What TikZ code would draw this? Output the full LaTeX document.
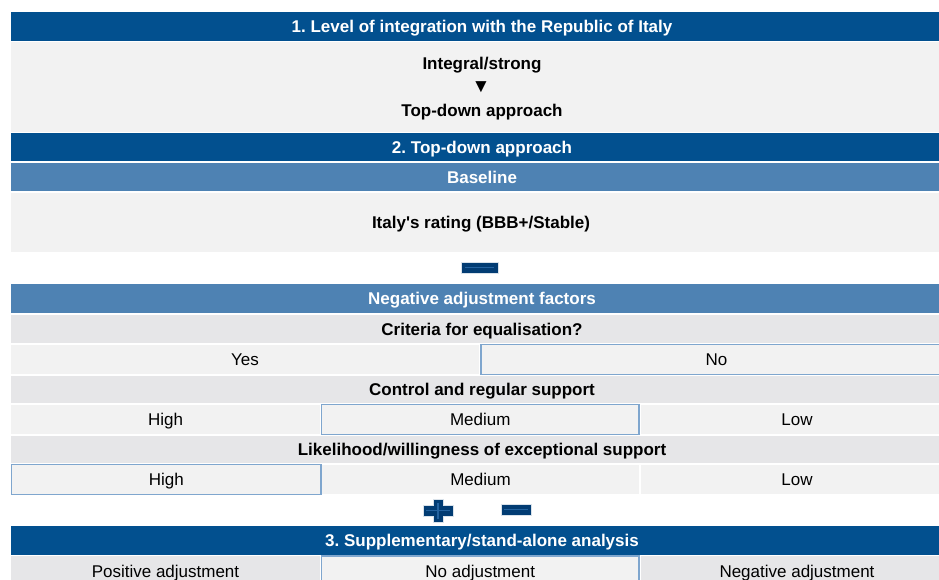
\documentclass[tikz,border=0pt]{standalone}
\usepackage{fontspec}
\setmainfont{Liberation Sans}
\frenchspacing
\definecolor{darkblue}{HTML}{02508F}
\definecolor{midblue}{HTML}{4E82B3}
\definecolor{edgeblue}{HTML}{7FA6CE}
\definecolor{lightcell}{HTML}{F2F2F2}
\definecolor{graycell}{HTML}{E6E6E8}
\definecolor{signblue}{HTML}{023C73}
\definecolor{signline}{HTML}{2463A0}
\newcommand{\cellbox}[7]{%
  \pgfmathsetmacro{\cellW}{#4-#2}\pgfmathsetmacro{\cellH}{#5-#3}%
  \pgfmathsetmacro{\cellX}{(#2+#4)/2}\pgfmathsetmacro{\cellY}{(#3+#5)/2}%
  \node[box,#6,minimum width=\cellW pt,minimum height=\cellH pt] (#1) at (\cellX,\cellY) {#7};}
\begin{document}
\begin{tikzpicture}[x=1pt,y=-1pt,
  box/.style={inner sep=0pt,outer sep=0pt,anchor=center,
    font=\fontsize{17}{20}\selectfont,text height=13pt,text depth=1pt},
  darkbar/.style={fill=darkblue,text=white,font=\fontsize{17}{20}\selectfont\bfseries},
  midbar/.style={fill=midblue,text=white,font=\fontsize{17}{20}\selectfont\bfseries},
  light/.style={fill=lightcell,text=black},
  gray/.style={fill=graycell,text=black},
  head/.style={fill=graycell,text=black,font=\fontsize{17}{20}\selectfont\bfseries},
  chosen/.style={draw=edgeblue,line width=1.6pt},
  plain/.style={inner sep=0pt,font=\fontsize{17}{20}\selectfont\bfseries,text height=13pt,text depth=1pt},
  sign/.style={fill=signblue,draw=white!85!signblue,line width=0.5pt},
  signbar/.style={draw=signline,line width=1.5pt}]
\useasboundingbox (0,0) rectangle (939,579);
% section 1
\cellbox{t1}{11}{12}{953}{41}{darkbar}{1. Level of integration with the Republic of Italy}
\cellbox{a1}{11}{42}{953}{132}{light}{}
\node[plain] (integral) at (482,63) {Integral/strong};
\node[plain,font=\fontsize{19}{20}\selectfont] (arrow) at (481,86.5) {▼};
\node[plain] (topdown) at (482,110) {Top-down approach};
% section 2
\cellbox{t2}{11}{133}{953}{161}{darkbar}{2. Top-down approach}
\cellbox{base}{11}{163}{953}{191}{midbar}{Baseline}
\cellbox{a2}{11}{193}{953}{252}{light}{}
\node[plain] (rating) at (481,222) {Italy\textquotesingle s rating (BBB+/Stable)};
% minus 1
\node[sign,inner sep=0pt,minimum width=37pt,minimum height=11pt] (minusA) at (479.5,267.5) {};
\draw[signbar] ([xshift=4pt]minusA.west) -- ([xshift=-4pt]minusA.east);
% negative adjustment factors
\cellbox{neg}{11}{284}{953}{313}{midbar}{Negative adjustment factors}
\cellbox{crit}{11}{315}{953}{343}{head}{Criteria for equalisation?}
\cellbox{yes}{11}{345}{479}{374}{light}{Yes}
\cellbox{no}{481}{344.5}{952}{374.5}{light,chosen}{No}
\cellbox{ctrl}{11}{376}{953}{403}{head}{Control and regular support}
\cellbox{ch}{11}{405}{320}{434}{light}{High}
\cellbox{cm}{321.5}{404.5}{639}{434.5}{light,chosen}{Medium}
\cellbox{cl}{641}{405}{953}{434}{light}{Low}
\cellbox{like}{11}{436}{953}{463}{head}{Likelihood/willingness of exceptional support}
\cellbox{lh}{11.5}{464.5}{321}{494.5}{light,chosen}{High}
\cellbox{lm}{322}{465}{639}{494}{light}{Medium}
\cellbox{ll}{641}{465}{953}{494}{light}{Low}
% plus and minus
\path[sign] (433,499) -- (443,499) -- (443,505) -- (453,505) -- (453,516) -- (443,516)
  -- (443,522) -- (433,522) -- (433,516) -- (423,516) -- (423,505) -- (433,505) -- cycle;
\coordinate (plusC) at (438,510.5);
\draw[signline,line width=1.4pt] ([xshift=-12pt]plusC) -- ([xshift=12pt]plusC)
  ([yshift=-8pt]plusC) -- ([yshift=8pt]plusC);
\node[sign,inner sep=0pt,minimum width=30pt,minimum height=11pt] (minusB) at (516,509.5) {};
\draw[signbar] ([xshift=3pt]minusB.west) -- ([xshift=-3pt]minusB.east);
% section 3
\cellbox{t3}{11}{526}{953}{555}{darkbar}{3. Supplementary/stand-alone analysis}
\cellbox{pos}{11}{556}{320}{586}{gray}{Positive adjustment}
\cellbox{noadj}{321.5}{556}{639}{586}{light,chosen}{No adjustment}
\cellbox{negadj}{641}{556}{953}{586}{gray}{Negative adjustment}
\end{tikzpicture}
\end{document}
